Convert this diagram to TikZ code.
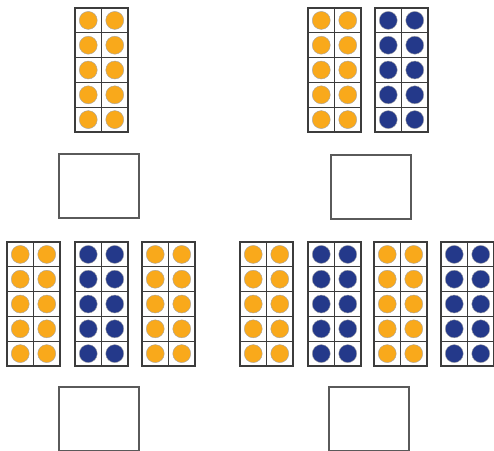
\documentclass[tikz,border=0pt]{standalone}
\usepackage{tikz}
\usetikzlibrary{positioning}
\definecolor{orangec}{HTML}{F9A91B}
\definecolor{bluec}{HTML}{24398A}
\definecolor{linec}{HTML}{3C3C3C}
\definecolor{boxc}{HTML}{5A5A5A}
\tikzset{
  tenfr/.style={draw=linec,line width=1.3pt,minimum width=53pt,minimum height=124pt,inner sep=0pt,outer sep=0pt,anchor=north west},
  cell/.style={linec,line width=0.9pt},
  dot/.style={draw=gray!70,line width=0.4pt},
  ansbox/.style={draw=boxc,line width=1.5pt,minimum width=80pt,minimum height=64pt,inner sep=0pt,anchor=north west}
}
% ten frame: name, x, y, colour
\newcommand{\tenframe}[4]{%
  \node[tenfr] (#1) at (#2,#3) {};
  \draw[cell] (#2+26.5,#3) -- (#2+26.5,#3+124);
  \foreach \r in {1,...,4} \draw[cell] (#2,#3+\r*24.8) -- (#2+53,#3+\r*24.8);
  \foreach \r in {0,...,4} \foreach \c in {0,1}
    \filldraw[dot,fill=#4] (#2+13.25+\c*26.5,#3+12.4+\r*24.8) circle (9);
}

\begin{document}
\begin{tikzpicture}[x=1pt,y=-1pt]
\useasboundingbox (0,0) rectangle (494,450);
% top row
\tenframe{ta}{75}{8}{orangec}
\tenframe{tb}{308}{8}{orangec}
\tenframe{tc}{375}{8}{bluec}
\node[ansbox] (boxa) at (58,153) {};
\node[ansbox] (boxb) at (330,154) {};
% bottom row
\tenframe{ba}{7}{242}{orangec}
\tenframe{bb}{75}{242}{bluec}
\tenframe{bc}{142}{242}{orangec}
\tenframe{bd}{240}{242}{orangec}
\tenframe{be}{308}{242}{bluec}
\tenframe{bf}{374}{242}{orangec}
\tenframe{bg}{441}{242}{bluec}
\node[ansbox] (boxc) at (58,386) {};
\node[ansbox] (boxd) at (328,386) {};
\end{tikzpicture}
\end{document}
